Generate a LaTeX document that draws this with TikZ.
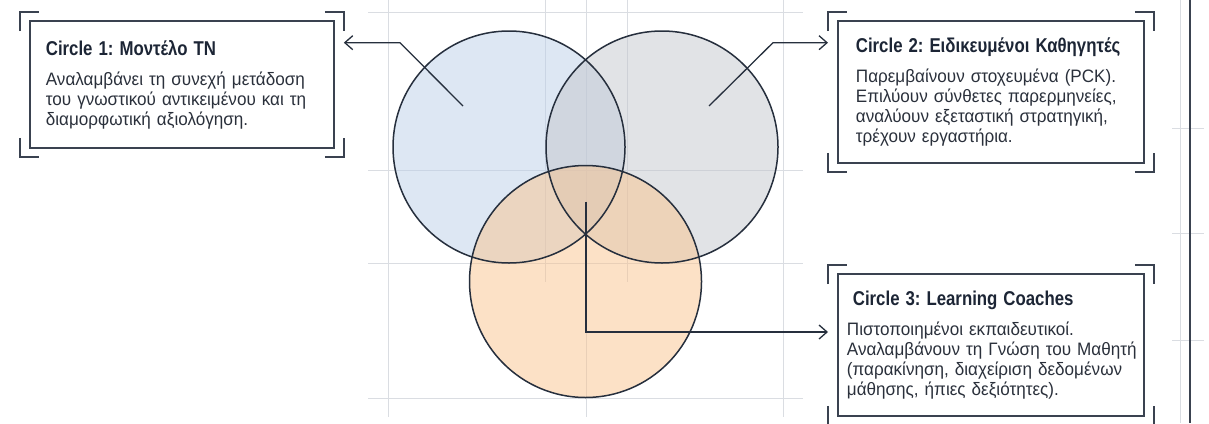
\documentclass[tikz,border=0pt]{standalone}
\usepackage{fontspec}
\setmainfont[FakeStretch=0.95]{Liberation Sans}
\newfontfamily\titlefont[FakeStretch=0.84]{Liberation Sans}
\usetikzlibrary{arrows.meta, positioning, calc}
\definecolor{tinta}{HTML}{262F3D}
\definecolor{marco}{HTML}{3A4250}
\definecolor{titulo}{HTML}{1C2535}
\definecolor{cuerpo}{HTML}{2A303B}
\definecolor{rejilla}{HTML}{DADDE2}
\definecolor{azulvenn}{HTML}{BBCFE7}
\definecolor{grisvenn}{HTML}{C3C7CD}
\definecolor{melocoton}{HTML}{F9C38D}
\tikzset{
  venn/.style={circle, minimum size=232pt, inner sep=0pt, fill opacity=0.5},
  borde/.style={tinta, line width=1.5pt},
  ficha/.style={rectangle, draw=marco, line width=1.8pt, anchor=north west,
    align=left, inner ysep=0pt, text=cuerpo,
    font=\frenchspacing\fontsize{18}{20}\selectfont},
  esquina/.style={marco, line width=2pt},
  guia/.style={-{Straight Barb[length=8pt,width=14pt]}, tinta, line width=1.3pt},
  linea/.style={rejilla, line width=0.9pt}
}
\newcommand{\cabecera}[1]{{\titlefont\bfseries\fontsize{20}{20}\selectfont\color{titulo}#1}\\[10pt]}

\begin{document}
\begin{tikzpicture}[x=1pt, y=-1pt]
  \useasboundingbox (0,0) rectangle (1209,423);

  % --- Rejilla de fondo ---
  \foreach \x/\yfin in {388/417, 545/282, 586/417, 627/282, 783/417}
    \draw[linea] (\x,0) -- (\x,\yfin);
  \foreach \y in {12, 170, 263, 398}
    \draw[linea] (368,\y) -- (803,\y);
  \draw[linea] (1180,0) -- (1180,423);
  \foreach \y in {128, 233, 340}
    \draw[linea] (1172,\y) -- (1204,\y);
  \draw[marco, line width=1.5pt] (1190,0) -- (1190,423);

  % --- Circulos ---
  \node[venn, fill=azulvenn]  (tn)  at (509,147)   {};
  \node[venn, fill=grisvenn]  (pck) at (662,147)   {};
  \node[venn, fill=melocoton] (lc)  at (585.5,281.5) {};
  \foreach \c in {tn, pck, lc}
    \draw[borde] (\c.center) circle[radius=116pt];

  % --- Fichas ---
  \node[ficha, minimum height=127pt, inner xsep=16pt, text width=272pt] (ficha1) at (29,20)
    {\cabecera{Circle 1: Μοντέλο ΤΝ}Αναλαμβάνει τη συνεχή μετάδοση\\
     \mbox{του γνωστικού αντικειμένου και τη}\\ διαμορφωτική αξιολόγηση.};
  \node[ficha, minimum height=142pt, inner xsep=18pt, text width=270pt] (ficha2) at (837,20)
    {\cabecera{Circle 2: Ειδικευμένοι Καθηγητές}Παρεμβαίνουν στοχευμένα (PCK).\\
     Επιλύουν σύνθετες παρερμηνείες,\\ αναλύουν εξεταστική στρατηγική,\\ τρέχουν εργαστήρια.};
  \node[ficha, minimum height=142pt, inner xsep=9pt, text width=288pt] (ficha3) at (837,273)
    {\cabecera{\hspace*{6pt}Circle 3: Learning Coaches}Πιστοποιημένοι εκπαιδευτικοί.\\
     \mbox{Αναλαμβάνουν τη Γνώση του Μαθητή}\\ \mbox{(παρακίνηση, διαχείριση δεδομένων}\\ μάθησης, ήπιες δεξιότητες).};

  % Esquinas de cada ficha
  \foreach \f in {ficha1, ficha2, ficha3} {
    \draw[esquina] ($(\f.north west)+(-9,11)$) -- ++(0,-19) -- ++(19,0);
    \draw[esquina] ($(\f.north east)+(-10,-8)$) -- ++(19,0) -- ++(0,19);
    \draw[esquina] ($(\f.south west)+(-9,-11)$) -- ++(0,19) -- ++(19,0);
    \draw[esquina] ($(\f.south east)+(-10,8)$) -- ++(19,0) -- ++(0,-19);
  }

  % --- Guias ---
  \coordinate (p1) at (463,106);
  \coordinate (p2) at (709,106);
  \coordinate (p3) at (586,201.7);
  \draw[guia] (p1) -- (400,42.7) -- ($(ficha1.north east)+(9,22.7)$);
  \draw[guia] (p2) -- (773,42.7) -- ($(ficha2.north west)+(-9,22.7)$);
  \draw[guia] (p3) |- ($(ficha3.north west)+(-9,59)$);

\end{tikzpicture}
\end{document}
